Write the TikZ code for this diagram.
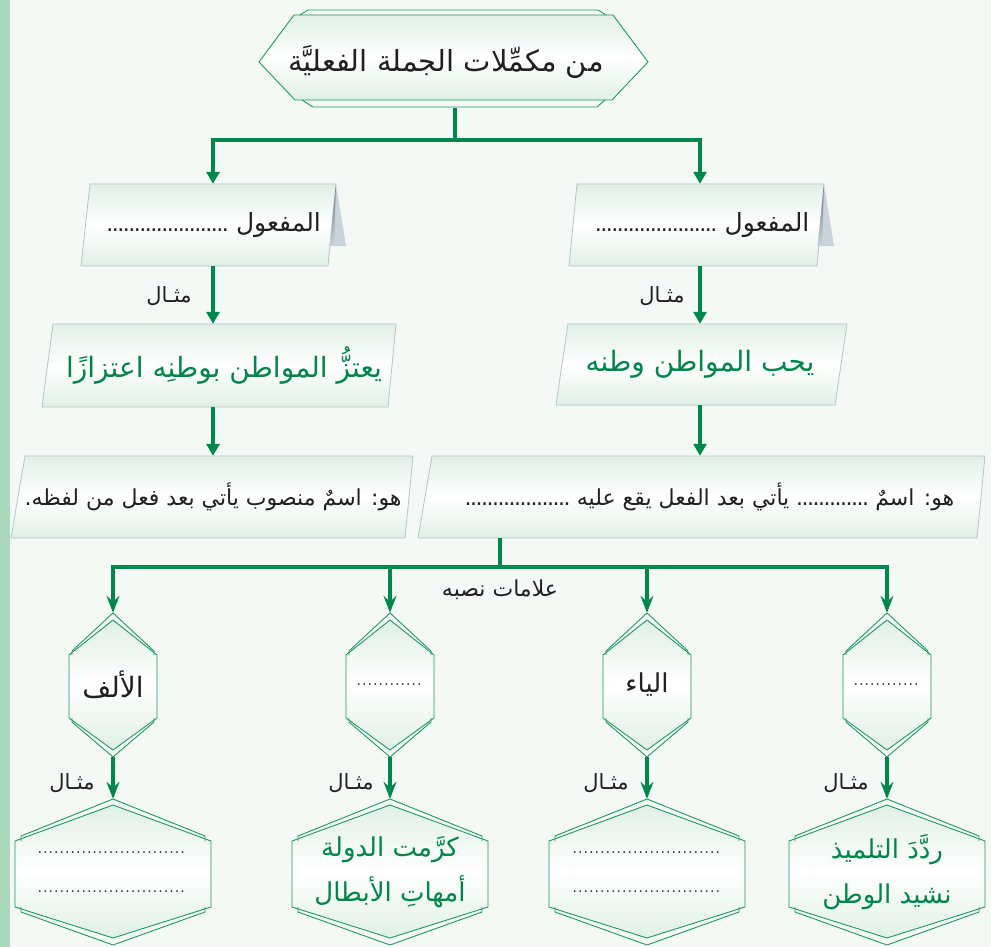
\documentclass[tikz,border=0pt]{standalone}
\usepackage{fontspec}
\newfontfamily\arfont[Script=Arabic]{DejaVu Sans}
\TeXXeTstate=1
\usetikzlibrary{arrows.meta}
\definecolor{bg}{HTML}{F4F9F6}
\definecolor{strip}{HTML}{A9D9BA}
\definecolor{gline}{HTML}{00874B}
\definecolor{gtext}{HTML}{00854A}
\definecolor{boxline}{HTML}{B3C5CF}
\definecolor{boxfill}{HTML}{E0F0E6}
\definecolor{hexline}{HTML}{1E9A5C}
\definecolor{ink}{HTML}{231F20}
\definecolor{tabdark}{HTML}{6F777C}
\definecolor{tablight}{HTML}{C8D3DB}
\newcommand{\AR}[1]{{\arfont\beginR #1\endR}}
\newcommand{\dotsrow}[1]{{\fontsize{22}{22}\selectfont\makebox[#1]{\leaders\hbox to 5.5pt{\hss.\hss}\hfill}}}
\tikzset{
  conn/.style={draw=gline, line width=3.6pt},
  arr/.style={conn, -{Triangle[width=13pt,length=12pt]}},
  arrs/.style={conn, -{Stealth[width=13pt,length=17pt,inset=6pt]}},
  pbox/.style={draw=boxline, line width=0.8pt, top color=boxfill, bottom color=boxfill, middle color=white},
  hexbox/.style={draw=hexline, line width=0.9pt, top color=boxfill, bottom color=boxfill, middle color=white},
  hexextra/.style={draw=hexline, line width=0.9pt},
  anch/.style={inner sep=0pt, text=ink},
  lbl/.style={inner sep=0pt, text=ink, font=\fontsize{21}{23}\selectfont},
  vhex/.pic={
    \path[hexbox] (0,-65) -- (44,-30) -- (44,33) -- (0,65) -- (-44,33) -- (-44,-30) -- cycle;
    \path[hexextra] (-41,-30) -- (-41,-34) -- (0,-72) -- (41,-34) -- (41,-30);
    \path[hexextra] (-41,33) -- (-41,37) -- (0,72) -- (41,37) -- (41,33);
  },
  hhex/.pic={
    \path[hexbox] (0,-67) -- (98,-31) -- (98,35) -- (0,66) -- (-98,35) -- (-98,-31) -- cycle;
    \path[hexextra] (-92,-31) -- (-92,-36) -- (0,-73) -- (92,-36) -- (92,-31);
    \path[hexextra] (-92,35) -- (-92,40) -- (0,73) -- (92,40) -- (92,35);
  }
}
\begin{document}
\begin{tikzpicture}[x=1pt,y=-1pt]
\useasboundingbox (0,0) rectangle (991,947);
\fill[bg] (0,0) rectangle (991,947);
\fill[strip] (0,0) rectangle (10,947);

% top node shape
\path[hexbox] (259,62) -- (294,15) -- (613,15) -- (648,62) -- (612,100) -- (295,100) -- cycle;
\path[hexextra] (300,15) -- (308,10) -- (598,10) -- (606,15);
\path[hexextra] (302,100) -- (313,107) -- (597,107) -- (605,100);
\node[anch, minimum height=92pt, font=\fontsize{29}{33}\selectfont] (top) at (446,62) {\AR{من مكمِّلات الجملة الفعليَّة}};

% object boxes
\path[pbox] (90,184) -- (336,184) -- (328,266) -- (81,266) -- cycle;
\path[fill=tablight] (336,184) -- (333,246) -- (346,246) -- cycle;
\path[top color=tabdark, bottom color=tablight] (336,184) -- (329.5,246) -- (334,246) -- cycle;
\path[pbox] (577,184) -- (824,184) -- (817,266) -- (569,266) -- cycle;
\path[fill=tablight] (824,184) -- (821,246) -- (834,246) -- cycle;
\path[top color=tabdark, bottom color=tablight] (824,184) -- (817.5,246) -- (822,246) -- cycle;
\node[anch, minimum height=82pt, font=\fontsize{25}{29}\selectfont] (lbox) at (213,225) {\AR{المفعول \dotsrow{123pt}}\hspace{22pt}};
\node[anch, minimum height=82pt, font=\fontsize{25}{29}\selectfont] (rbox) at (700,225) {\AR{المفعول \dotsrow{126pt}}};

% example boxes
\path[pbox] (53,324) -- (396,324) -- (388,407) -- (42,407) -- cycle;
\path[pbox] (568,324) -- (847,324) -- (835,405) -- (556,405) -- cycle;
\node[anch, minimum height=83pt, text=gtext, font=\fontsize{28}{32}\selectfont] (lex) at (213,365.5) {\hspace{22pt}\AR{يعتزُّ المواطن بوطنِه اعتزازًا}};
\node[anch, minimum height=81pt, text=gtext, font=\fontsize{28}{32}\selectfont] (rex) at (700,364.5) {\AR{يحب المواطن وطنه}};

% definition boxes
\path[pbox] (25,456) -- (413,456) -- (405,538) -- (11,538) -- cycle;
\path[pbox] (432,456) -- (985,456) -- (977,538) -- (418,538) -- cycle;
\node[anch, minimum height=82pt, font=\fontsize{22}{26}\selectfont] (ldef) at (213,497) {\AR{هو: اسمٌ منصوب يأتي بعد فعل من لفظه.}};
\node[anch, minimum height=82pt, font=\fontsize{22}{26}\selectfont] (rdef) at (700,497) {\hspace{16pt}\AR{هو: اسمٌ \dotsrow{72pt} يأتي بعد الفعل يقع عليه \dotsrow{108pt}}};

% hexagons
\pic at (113,685) {vhex};
\pic at (390,685) {vhex};
\pic at (647,685) {vhex};
\pic at (887,685) {vhex};
\node[anch, minimum height=144pt, font=\fontsize{28}{32}\selectfont] (h1) at (113,685) {\AR{الألف}};
\node[anch, minimum height=144pt] (h2) at (390,685) {\dotsrow{68pt}};
\node[anch, minimum height=144pt, font=\fontsize{26}{30}\selectfont] (h3) at (647,685) {\AR{الياء}};
\node[anch, minimum height=144pt] (h4) at (887,685) {\dotsrow{68pt}};

% bottom hexagons
\pic at (113,872) {hhex};
\pic at (390,872) {hhex};
\pic at (647,872) {hhex};
\pic at (887,872) {hhex};
\node[anch, minimum height=146pt, align=center, font=\fontsize{22}{39}\selectfont] (b1) at (113,872) {\dotsrow{152pt}\\\dotsrow{152pt}};
\node[anch, minimum height=146pt, align=center, text=gtext, font=\fontsize{26}{45}\selectfont] (b2) at (390,872) {\AR{كرَّمت الدولة}\\\AR{أمهاتِ الأبطال}};
\node[anch, minimum height=146pt, align=center, font=\fontsize{22}{39}\selectfont] (b3) at (647,872) {\dotsrow{150pt}\\\dotsrow{150pt}};
\node[anch, minimum height=146pt, align=center, text=gtext, font=\fontsize{26}{45}\selectfont] (b4) at (887,872) {\AR{ردَّدَ التلميذ}\\\AR{نشيد الوطن}};

% labels
\node[lbl] (m1) at (169,296) {\AR{مثـال}};
\node[lbl] (m2) at (662,296) {\AR{مثـال}};
\node[anch, font=\fontsize{22}{24}\selectfont] (cue) at (500,590) {\AR{علامات نصبه}};
\node[lbl] (m3) at (72,783) {\AR{مثـال}};
\node[lbl] (m4) at (351,783) {\AR{مثـال}};
\node[lbl] (m5) at (606,783) {\AR{مثـال}};
\node[lbl] (m6) at (846,783) {\AR{مثـال}};

% connectors
\coordinate (j1) at (455,140);
\coordinate (j2) at (500,567);
\draw[conn] (j1 |- top.south) -- (j1);
\draw[arr] (j1) -| (lbox.north);
\draw[arr] (j1) -| (rbox.north);
\draw[arr] (lbox.south) -- (lex.north);
\draw[arr] (rbox.south) -- (rex.north);
\draw[arr] (lex.south) -- (ldef.north);
\draw[arr] (rex.south) -- (rdef.north);
\draw[conn] (j2 |- rdef.south) -- (j2);
\draw[arrs] (j2) -| (h1.north);
\draw[arrs] (j2) -| (h2.north);
\draw[arrs] (j2) -| (h3.north);
\draw[arrs] (j2) -| (h4.north);
\draw[arrs] (h1.south) -- (b1.north);
\draw[arrs] (h2.south) -- (b2.north);
\draw[arrs] (h3.south) -- (b3.north);
\draw[arrs] (h4.south) -- (b4.north);
\end{tikzpicture}
\end{document}
